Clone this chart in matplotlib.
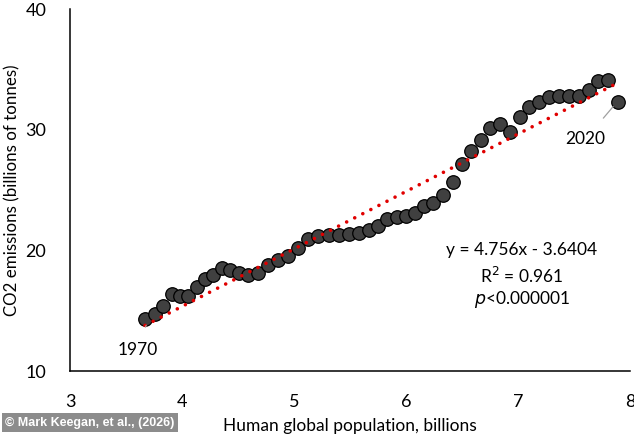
import matplotlib.pyplot as plt
import numpy as np

plt.rcParams['font.family'] = ['Lato', 'DejaVu Sans']
plt.rcParams['font.size'] = 12

# population (billions) and CO2 emissions (billions of tonnes), 1970-2020
population = [3.670, 3.759, 3.833, 3.908, 3.982, 4.056, 4.131, 4.205, 4.279, 4.354,
              4.429, 4.512, 4.592, 4.681, 4.771, 4.860, 4.949, 5.038, 5.128, 5.217,
              5.315, 5.404, 5.494, 5.583, 5.672, 5.753, 5.833, 5.917, 6.000, 6.080,
              6.163, 6.244, 6.328, 6.417, 6.497, 6.580, 6.667, 6.750, 6.839, 6.929,
              7.018, 7.101, 7.190, 7.277, 7.366, 7.455, 7.547, 7.636, 7.717, 7.806,
              7.890]
co2 = [14.32, 14.76, 15.42, 16.42, 16.25, 16.25, 17.02, 17.63, 17.99, 18.59,
       18.40, 18.18, 17.99, 18.13, 18.82, 19.23, 19.59, 20.26, 20.93, 21.22,
       21.30, 21.30, 21.38, 21.49, 21.71, 22.04, 22.60, 22.76, 22.87, 23.15,
       23.70, 23.97, 24.61, 25.71, 27.20, 28.24, 29.16, 30.13, 30.49, 29.85,
       31.09, 31.92, 32.28, 32.70, 32.83, 32.83, 32.83, 33.30, 34.07, 34.13,
       32.33]

slope = 4.756
intercept = -3.6404

fig = plt.figure(figsize=(6.34, 4.37), dpi=100)
ax = fig.add_axes([0.1104, 0.1499, 0.8833, 0.8295])

# trend line (dotted red)
xfit = np.array([min(population), max(population)])
ax.plot(xfit, slope * xfit + intercept, color='#E00000', linewidth=2.6,
        linestyle=(0, (0.01, 2.5)), dash_capstyle='round', zorder=3)

ax.scatter(population, co2, s=95, facecolor='#404040', edgecolor='black',
           linewidth=0.9, zorder=2)

# year labels
ax.annotate('1970', xy=(population[0] + 0.01, co2[0] - 0.5), xytext=(3.607, 11.8),
            fontsize=12.5, ha='center', va='center',
            arrowprops=dict(arrowstyle='-', color='#A0A0A0', lw=0.9, shrinkA=9, shrinkB=0))
ax.annotate('2020', xy=(population[-1] - 0.04, co2[-1] - 0.4), xytext=(7.60, 29.2),
            fontsize=12.5, ha='center', va='center',
            arrowprops=dict(arrowstyle='-', color='#A0A0A0', lw=0.9, shrinkA=10, shrinkB=0))

ax.text(7.036, 20.06, 'y = 4.756x - 3.6404', ha='center', va='center', fontsize=12.5)
ax.text(7.036, 17.9, 'R$^2$ = 0.961', ha='center', va='center', fontsize=12.5)
ax.text(7.036, 15.95, r'$\it{p}$<0.000001', ha='center', va='center', fontsize=12.5)

ax.set_xlim(3, 8)
ax.set_ylim(10, 40)
ax.set_xticks([3, 4, 5, 6, 7, 8])
ax.set_yticks([10, 20, 30, 40])
ax.tick_params(length=0, labelsize=13, pad=16)
ax.tick_params(axis='y', pad=17)
ax.spines['top'].set_visible(False)
ax.spines['right'].set_visible(False)
ax.spines['left'].set_linewidth(1.1)
ax.spines['bottom'].set_linewidth(1.1)

ax.set_xlabel('Human global population, billions', fontsize=12.5, labelpad=6)
ax.set_ylabel('CO2 emissions (billions of tonnes)', fontsize=12.2, labelpad=4)

# watermark
fig.text(0.008, 0.033, '\u00a9 Mark Keegan, et al., (2026)', fontsize=9, color='white',
         fontweight='bold', family=['Liberation Sans', 'DejaVu Sans'], ha='left', va='center',
         bbox=dict(boxstyle='square,pad=0.25', facecolor='#8C8C8C', edgecolor='none'))

fig.savefig('out.png', dpi=100)
